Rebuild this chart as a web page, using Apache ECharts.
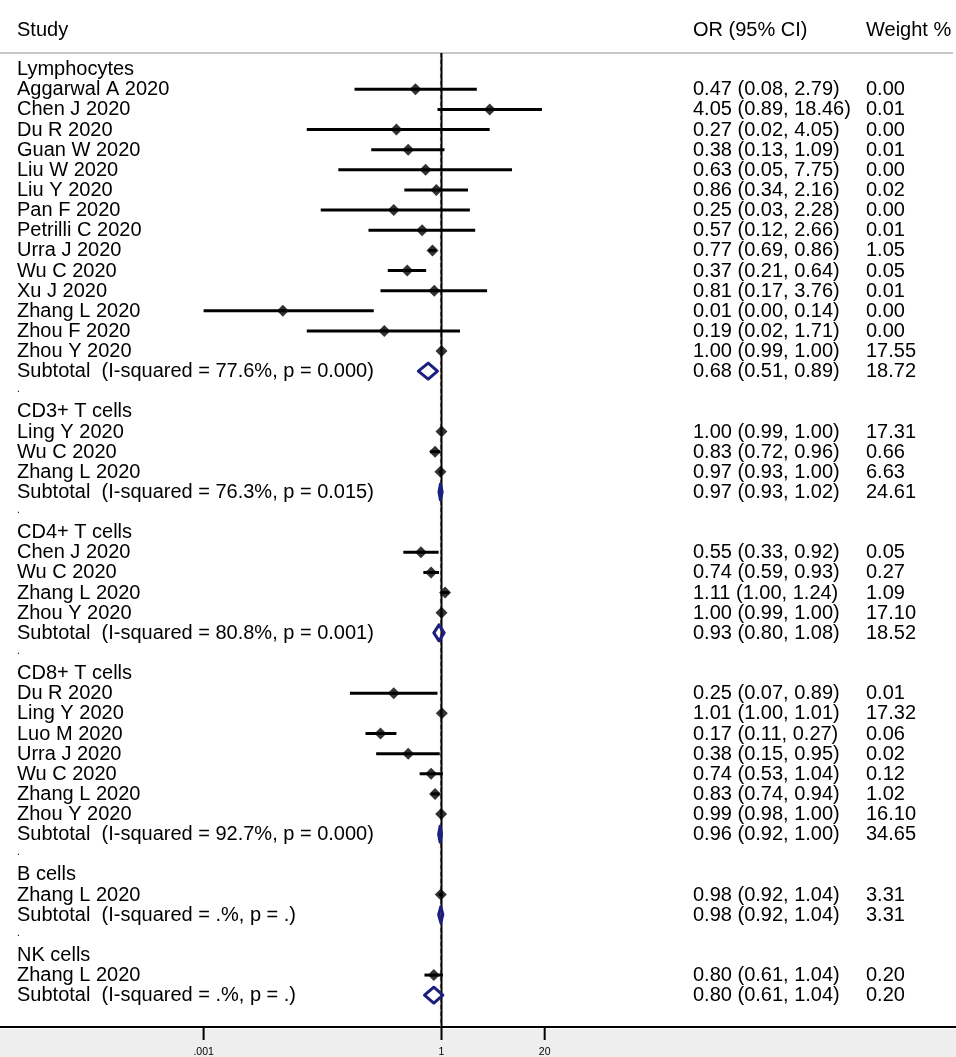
<!DOCTYPE html>
<html lang="en">
<head>
<meta charset="UTF-8">
<script src="https://cdn.jsdelivr.net/npm/echarts@6/dist/echarts.min.js"></script>
<title>Forest plot</title>
<style>html,body{margin:0;padding:0;background:#fff;}</style>
</head>
<body>
<div id="main" style="width:956px;height:1057px;"></div>
<script type="text/javascript">
// subgroups, in plot order
var groupNames = ['Lymphocytes', 'CD3+ T cells', 'CD4+ T cells', 'CD8+ T cells', 'B cells', 'NK cells'];

// single studies (group index, name, OR, lower, upper, weight %)
var studyGroup = [0,0,0,0,0,0,0,0,0,0,0,0,0,0, 1,1,1, 2,2,2,2, 3,3,3,3,3,3,3, 4, 5];
var studyNames = [
    'Aggarwal A 2020', 'Chen J 2020', 'Du R 2020', 'Guan W 2020', 'Liu W 2020', 'Liu Y 2020', 'Pan F 2020',
    'Petrilli C 2020', 'Urra J 2020', 'Wu C 2020', 'Xu J 2020', 'Zhang L 2020', 'Zhou F 2020', 'Zhou Y 2020',
    'Ling Y 2020', 'Wu C 2020', 'Zhang L 2020',
    'Chen J 2020', 'Wu C 2020', 'Zhang L 2020', 'Zhou Y 2020',
    'Du R 2020', 'Ling Y 2020', 'Luo M 2020', 'Urra J 2020', 'Wu C 2020', 'Zhang L 2020', 'Zhou Y 2020',
    'Zhang L 2020',
    'Zhang L 2020'
];
var studyOR = [0.47, 4.05, 0.27, 0.38, 0.63, 0.86, 0.25, 0.57, 0.77, 0.37, 0.81, 0.01, 0.19, 1.00,
    1.00, 0.83, 0.97,
    0.55, 0.74, 1.11, 1.00,
    0.25, 1.01, 0.17, 0.38, 0.74, 0.83, 0.99,
    0.98,
    0.80];
var studyLow = [0.08, 0.89, 0.02, 0.13, 0.05, 0.34, 0.03, 0.12, 0.69, 0.21, 0.17, 0.001, 0.02, 0.99,
    0.99, 0.72, 0.93,
    0.33, 0.59, 1.00, 0.99,
    0.07, 1.00, 0.11, 0.15, 0.53, 0.74, 0.98,
    0.92,
    0.61];
var studyHigh = [2.79, 18.46, 4.05, 1.09, 7.75, 2.16, 2.28, 2.66, 0.86, 0.64, 3.76, 0.14, 1.71, 1.00,
    1.00, 0.96, 1.00,
    0.92, 0.93, 1.24, 1.00,
    0.89, 1.01, 0.27, 0.95, 1.04, 0.94, 1.00,
    1.04,
    1.04];
var studyWeight = [0.00, 0.01, 0.00, 0.01, 0.00, 0.02, 0.00, 0.01, 1.05, 0.05, 0.01, 0.00, 0.00, 17.55,
    17.31, 0.66, 6.63,
    0.05, 0.27, 1.09, 17.10,
    0.01, 17.32, 0.06, 0.02, 0.12, 1.02, 16.10,
    3.31,
    0.20];

// pooled subgroup estimates
var subtotalHet = ['I-squared = 77.6%, p = 0.000', 'I-squared = 76.3%, p = 0.015', 'I-squared = 80.8%, p = 0.001',
    'I-squared = 92.7%, p = 0.000', 'I-squared = .%, p = .', 'I-squared = .%, p = .'];
var subtotalOR = [0.68, 0.97, 0.93, 0.96, 0.98, 0.80];
var subtotalLow = [0.51, 0.93, 0.80, 0.92, 0.92, 0.61];
var subtotalHigh = [0.89, 1.02, 1.08, 1.00, 1.04, 1.04];
var subtotalWeight = [18.72, 24.61, 18.52, 34.65, 3.31, 0.20];

// reference lines (null effect, overall estimate)
var nullValue = 1;
var overallOR = 0.97;

// x axis ticks
var tickValues = [0.001, 1, 20];
var tickLabels = ['.001', '1', '20'];

// ---- layout ----
var FONT = '"Liberation Sans", Arial, Helvetica, sans-serif';
var PX_PER_DECADE = 79.3;   // pixels per power of ten
var NULL_X = 441.5;         // pixel position of OR = 1
var CHART_W = 956;
var COL_STUDY = 17, COL_OR = 693, COL_WT = 866;

function fmt(v) { return v.toFixed(2); }
function ciText(e, l, h) { return fmt(e) + ' (' + fmt(l) + ', ' + fmt(h) + ')'; }

// build rows
var textRows = [];      // {name, ci, wt, small}
var textData = [];
var pointData = [];
var ciData = [];
var diamondData = [];
var r = 0;
groupNames.forEach(function (g, gi) {
    textRows.push({name: g, ci: '', wt: ''});
    textData.push([nullValue, r]);
    r++;
    for (var i = 0; i < studyNames.length; i++) {
        if (studyGroup[i] !== gi) continue;
        textRows.push({name: studyNames[i], ci: ciText(studyOR[i], studyLow[i], studyHigh[i]), wt: fmt(studyWeight[i])});
        textData.push([nullValue, r]);
        ciData.push([studyLow[i], studyHigh[i], r]);
        pointData.push([studyOR[i], r]);
        r++;
    }
    textRows.push({name: 'Subtotal  (' + subtotalHet[gi] + ')', ci: ciText(subtotalOR[gi], subtotalLow[gi], subtotalHigh[gi]), wt: fmt(subtotalWeight[gi])});
    textData.push([nullValue, r]);
    diamondData.push([subtotalLow[gi], subtotalOR[gi], subtotalHigh[gi], r]);
    r++;
    if (gi < groupNames.length - 1) {
        textRows.push({name: '.', ci: '', wt: '', small: true});
        textData.push([nullValue, r]);
        r++;
    }
});

var myChart = echarts.init(document.getElementById('main'));

var option = {
    backgroundColor: '#fff',
    animation: false,
    graphic: [
        {type: 'rect', z: -10, shape: {x: 0, y: 1029, width: CHART_W, height: 30}, style: {fill: '#eeeeee'}},
        {type: 'line', shape: {x1: 0, y1: 53, x2: 953, y2: 53}, style: {stroke: '#b4b4b4', lineWidth: 1.3}},
        {type: 'text', x: COL_STUDY, y: 30, style: {text: 'Study', font: '20px ' + FONT, fill: '#000', verticalAlign: 'middle'}},
        {type: 'text', x: COL_OR, y: 30, style: {text: 'OR (95% CI)', font: '20px ' + FONT, fill: '#000', verticalAlign: 'middle'}},
        {type: 'text', x: COL_WT, y: 30, style: {text: 'Weight %', font: '20px ' + FONT, fill: '#000', verticalAlign: 'middle'}}
    ],
    grid: {left: 0, right: 0, top: 53, bottom: 30, containLabel: false},
    xAxis: {
        type: 'log',
        logBase: 10,
        min: Math.pow(10, -NULL_X / PX_PER_DECADE),
        max: Math.pow(10, (CHART_W - NULL_X) / PX_PER_DECADE),
        axisLine: {show: true, onZero: false, lineStyle: {color: '#000', width: 2}},
        axisTick: {show: false},
        axisLabel: {show: false},
        splitLine: {show: false}
    },
    yAxis: {
        type: 'value',
        inverse: true,
        min: -0.805,
        max: 47.58,
        show: false
    },
    series: [
        {
            // overall (dashed) and null (solid) vertical lines
            type: 'custom',
            z: 1,
            silent: true,
            encode: {x: 0, y: 1},
            data: [[overallOR, 0, 0], [nullValue, 0, 1]],
            renderItem: function (params, api) {
                var x = api.coord([api.value(0), 0])[0];
                var cs = params.coordSys;
                var isNull = api.value(2) === 1;
                return {
                    type: 'line',
                    shape: {x1: x, y1: cs.y, x2: x, y2: cs.y + cs.height},
                    style: isNull
                        ? {stroke: '#000', lineWidth: 2}
                        : {stroke: '#c07070', lineWidth: 1, lineDash: [4, 3]}
                };
            }
        },
        {
            // confidence intervals
            type: 'custom',
            z: 2,
            silent: true,
            encode: {x: [0, 1], y: 2},
            data: ciData,
            renderItem: function (params, api) {
                var p1 = api.coord([api.value(0), api.value(2)]);
                var p2 = api.coord([api.value(1), api.value(2)]);
                return {
                    type: 'line',
                    shape: {x1: p1[0], y1: p1[1], x2: p2[0], y2: p2[1]},
                    style: {stroke: '#000', lineWidth: 3}
                };
            }
        },
        {
            // point estimates
            type: 'scatter',
            z: 3,
            silent: true,
            symbol: 'diamond',
            symbolSize: [12, 12],
            itemStyle: {color: '#000'},
            data: pointData
        },
        {
            // pooled subgroup diamonds
            type: 'custom',
            z: 3,
            silent: true,
            encode: {x: [0, 1, 2], y: 3},
            data: diamondData,
            renderItem: function (params, api) {
                var row = api.value(3);
                var pl = api.coord([api.value(0), row]);
                var pe = api.coord([api.value(1), row]);
                var ph = api.coord([api.value(2), row]);
                var h = 8;
                return {
                    type: 'polygon',
                    shape: {points: [[pl[0], pl[1]], [pe[0], pe[1] - h], [ph[0], ph[1]], [pe[0], pe[1] + h]]},
                    style: {fill: 'none', stroke: '#1b1f7d', lineWidth: 3, lineJoin: 'round'}
                };
            }
        },
        {
            // row texts
            type: 'custom',
            z: 4,
            silent: true,
            encode: {x: 0, y: 1},
            data: textData,
            renderItem: function (params, api) {
                var y = api.coord([api.value(0), api.value(1)])[1];
                var t = textRows[params.dataIndex];
                var font = (t.small ? '10px ' : '20px ') + FONT;
                return {
                    type: 'group',
                    children: [
                        {type: 'text', x: COL_STUDY, y: t.small ? y - 2 : y + 0.5, style: {text: t.name, font: font, fill: '#000', verticalAlign: 'middle'}},
                        {type: 'text', x: COL_OR, y: y + 0.5, style: {text: t.ci, font: font, fill: '#000', verticalAlign: 'middle'}},
                        {type: 'text', x: COL_WT, y: y + 0.5, style: {text: t.wt, font: font, fill: '#000', verticalAlign: 'middle'}}
                    ]
                };
            }
        },
        {
            // x axis ticks and labels
            type: 'custom',
            z: 5,
            silent: true,
            encode: {x: 0, y: 1},
            data: tickValues.map(function (v) { return [v, 0]; }),
            renderItem: function (params, api) {
                var x = api.coord([api.value(0), 0])[0];
                var bottom = params.coordSys.y + params.coordSys.height;
                return {
                    type: 'group',
                    children: [
                        {type: 'line', shape: {x1: x, y1: bottom, x2: x, y2: bottom + 13}, style: {stroke: '#000', lineWidth: 2}},
                        {type: 'text', x: x, y: bottom + 25, style: {text: tickLabels[params.dataIndex], font: '10.5px ' + FONT, fill: '#000', align: 'center', verticalAlign: 'middle'}}
                    ]
                };
            }
        }
    ]
};

myChart.setOption(option);
</script>
</body>
</html>
